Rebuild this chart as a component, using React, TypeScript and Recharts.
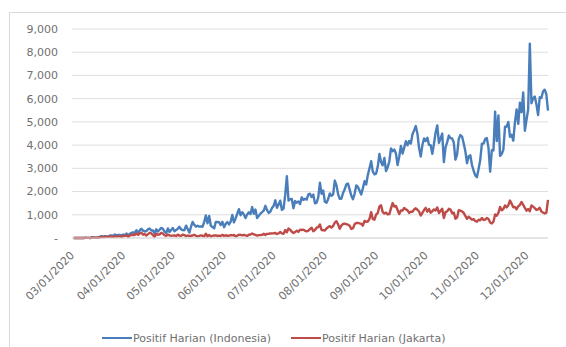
import React from 'react';
import { LineChart, Line, XAxis, YAxis, CartesianGrid, Legend } from 'recharts';

// Daily new positive cases, 2 March – 14 December 2020
const FIRST_DATE = '03/02/2020';
const AXIS_START = '03/01/2020';

const tickLabels = [
  '03/01/2020', '04/01/2020', '05/01/2020', '06/01/2020', '07/01/2020',
  '08/01/2020', '09/01/2020', '10/01/2020', '11/01/2020', '12/01/2020',
];

const yTicks = [0, 1000, 2000, 3000, 4000, 5000, 6000, 7000, 8000, 9000];

const seriesNames = ['Positif Harian (Indonesia)', 'Positif Harian (Jakarta)'];
const seriesColors = ['#4A7EBB', '#BE4B48'];

const indonesia = [
  // March
  2, 0, 0, 0, 2, 0, 2, 13, 8, 7, 0, 35, 27, 21, 17, 38, 55, 82, 60, 81, 64, 65, 107, 105, 103, 153, 109, 130, 129, 114,
  // April
  149, 113, 196, 106, 181, 218, 247, 218, 337, 219, 330, 399, 316, 282, 297, 380, 407, 325, 327, 185, 375, 283, 357, 436, 396, 275, 214, 415, 260, 347,
  // May
  433, 292, 349, 395, 484, 367, 338, 336, 533, 387, 233, 484, 689, 568, 490, 529, 489, 496, 486, 693, 973, 634, 949, 526, 479, 415, 686, 687, 678, 557, 700,
  // June
  467, 609, 684, 585, 703, 993, 672, 847, 1043, 1241, 979, 1111, 1014, 857, 1017, 1106, 1031, 1331, 1041, 1226, 862, 954, 1051, 1113, 1178, 1385, 1198, 1082, 1128, 1293,
  // July
  1385, 1624, 1301, 1447, 1607, 1209, 1268, 1853, 2657, 1611, 1671, 1681, 1282, 1591, 1522, 1574, 1462, 1752, 1639, 1693, 1655, 1882, 1906, 1761, 1868, 1492, 1525, 1748, 2381, 1904, 2040,
  // August
  1560, 1519, 1679, 1922, 1815, 1882, 2473, 2277, 1893, 1687, 1693, 1942, 2098, 2307, 2345, 2081, 1821, 1673, 1902, 2266, 2197, 2037, 1877, 2149, 2447, 2306, 2719, 3003, 3308, 2858, 2743,
  // September
  2775, 3075, 3622, 3269, 3128, 3444, 2880, 3046, 3307, 3861, 3737, 3806, 3636, 3141, 3507, 3963, 3635, 3891, 4168, 3989, 4176, 4071, 4465, 4634, 4823, 4494, 3874, 3509, 4002, 4284,
  // October
  4174, 4317, 4007, 3992, 3622, 4056, 4538, 4850, 4094, 4294, 4497, 3267, 3906, 4127, 4411, 4301, 4286, 4105, 3373, 3602, 4267, 4432, 4369, 4070, 3732, 3222, 3520, 3565, 3143, 2897, 2696,
  // November
  2618, 2973, 3356, 4065, 4062, 4262, 4301, 3880, 2853, 3779, 3770, 5444, 4173, 5272, 3535, 3617, 3807, 4798, 4792, 4998, 4360, 4442, 4192, 4976, 5534, 4917, 5828, 5418, 6267, 4617,
  // December
  5092, 5533, 8369, 5803, 6027, 6089, 5754, 5292, 6058, 6033, 6310, 6388, 6189, 5489,
];

const jakarta = [
  // March
  2, 0, 0, 0, 2, 0, 2, 6, 4, 5, 0, 20, 15, 15, 13, 20, 31, 50, 39, 52, 48, 49, 73, 48, 50, 77, 62, 72, 71, 43,
  // April
  96, 90, 112, 51, 114, 132, 139, 131, 194, 132, 201, 227, 141, 164, 110, 166, 223, 195, 119, 53, 181, 137, 155, 227, 188, 119, 87, 152, 110, 100,
  // May
  103, 116, 86, 146, 103, 89, 148, 125, 77, 108, 83, 95, 107, 139, 95, 74, 92, 113, 98, 72, 183, 67, 131, 67, 88, 113, 106, 97, 100, 89, 135,
  // June
  88, 119, 97, 96, 129, 114, 130, 75, 101, 138, 136, 117, 138, 113, 91, 138, 152, 191, 155, 131, 105, 125, 127, 134, 182, 133, 177, 185, 196, 200,
  // July
  203, 216, 173, 200, 256, 201, 180, 344, 248, 404, 359, 268, 213, 260, 317, 262, 361, 346, 361, 309, 288, 320, 387, 445, 295, 342, 443, 472, 584, 347, 336,
  // August
  322, 409, 472, 509, 448, 522, 658, 721, 588, 397, 537, 604, 619, 593, 576, 527, 390, 420, 591, 650, 648, 629, 613, 530, 736, 695, 711, 820, 1114, 820, 788,
  // September
  1004, 1077, 1359, 1406, 1114, 1052, 1092, 1015, 1026, 1274, 1505, 1352, 1380, 1209, 1031, 1185, 1177, 1293, 1235, 1190, 1080, 1137, 1133, 1225, 1279, 1217, 1140, 964, 1086, 1204,
  // October
  1298, 1134, 1246, 1091, 1151, 1232, 1186, 1317, 1076, 1170, 1260, 859, 1117, 1149, 1258, 1224, 1065, 1090, 831, 887, 1199, 1174, 1151, 1083, 948, 828, 917, 858, 786, 814, 733,
  // November
  702, 785, 763, 858, 770, 789, 862, 816, 669, 627, 704, 1011, 962, 1080, 1340, 1197, 1251, 1402, 1318, 1414, 1611, 1479, 1326, 1340, 1239, 1366, 1431, 1552, 1431, 1299,
  // December
  1175, 1248, 1153, 1402, 1350, 1283, 1208, 1235, 1303, 1139, 1097, 1058, 1088, 1640,
];

// Day number counted from the first date on the axis
const parseDate = (s: string) => {
  const [m, d, y] = s.split('/').map(Number);
  return Date.UTC(y, m - 1, d);
};
const dayOf = (s: string) => Math.round((parseDate(s) - parseDate(AXIS_START)) / 86400000);

const firstDay = dayOf(FIRST_DATE);
const data = indonesia.map((v, i) => ({
  day: firstDay + i,
  indonesia: v,
  jakarta: jakarta[i],
}));
const lastDay = data[data.length - 1].day;
const tickDays = tickLabels.map(dayOf);

const FONT = '"DejaVu Sans", sans-serif';
const TEXT = '#707070';

const DateTick = (props: any) => {
  const { x, y, payload } = props;
  const label = tickLabels[tickDays.indexOf(payload.value)];
  return (
    <g transform={`translate(${x + 3},${y + 18})`}>
      <text textAnchor="end" transform="rotate(-45)" fontSize={11} fontFamily={FONT} fill={TEXT}>
        {label}
      </text>
    </g>
  );
};

const LegendContent = (props: any) => {
  const items = props.payload || [];
  return (
    <div
      style={{
        display: 'flex',
        alignItems: 'center',
        paddingLeft: 102,
        height: 18,
        fontFamily: FONT,
        fontSize: 11,
        color: TEXT,
        whiteSpace: 'nowrap',
      }}
    >
      {items.map((it: any) => (
        <span key={it.value} style={{ display: 'flex', alignItems: 'center', marginRight: 20 }}>
          <span style={{ display: 'inline-block', width: 30, height: 2, background: it.color, marginRight: 1 }} />
          {it.value}
        </span>
      ))}
    </div>
  );
};

export default function App() {
  return (
    <div
      style={{
        position: 'absolute',
        left: 0,
        top: 0,
        width: 566,
        height: 347,
        overflow: 'hidden',
        background: '#ffffff',
      }}
    >
      <div
        style={{
          position: 'absolute',
          left: 9,
          top: 12,
          width: 700,
          height: 500,
          borderLeft: '1px solid #d9d9d9',
          borderTop: '1px solid #d9d9d9',
        }}
      />
      <div style={{ position: 'absolute', left: 0, top: 0 }}>
        <LineChart width={566} height={347} data={data} margin={{ top: 29, right: 18, left: 0, bottom: 0 }}>
          <CartesianGrid vertical={false} stroke="#dedede" />
          <XAxis
            type="number"
            dataKey="day"
            domain={[0, lastDay]}
            ticks={tickDays}
            interval={0}
            tickLine={false}
            tickSize={0}
            tickMargin={0}
            height={91}
            axisLine={{ stroke: '#d9d9d9' }}
            tick={<DateTick />}
          />
          <YAxis
            type="number"
            domain={[0, 9000]}
            ticks={yTicks}
            interval={0}
            width={72}
            axisLine={false}
            tickLine={false}
            tickMargin={8}
            tick={{ fontSize: 11, fontFamily: FONT, fill: TEXT }}
            tickFormatter={(v: number) => (v === 0 ? '-' : v.toLocaleString('en-US'))}
          />
          <Legend
            content={<LegendContent />}
            wrapperStyle={{ top: 329, bottom: 'auto', left: 0, width: 566, height: 18 }}
          />
          <Line
            type="linear"
            dataKey="indonesia"
            name={seriesNames[0]}
            stroke={seriesColors[0]}
            strokeWidth={2.4}
            strokeLinejoin="round"
            dot={false}
            isAnimationActive={false}
          />
          <Line
            type="linear"
            dataKey="jakarta"
            name={seriesNames[1]}
            stroke={seriesColors[1]}
            strokeWidth={2.4}
            strokeLinejoin="round"
            dot={false}
            isAnimationActive={false}
          />
        </LineChart>
      </div>
    </div>
  );
}
